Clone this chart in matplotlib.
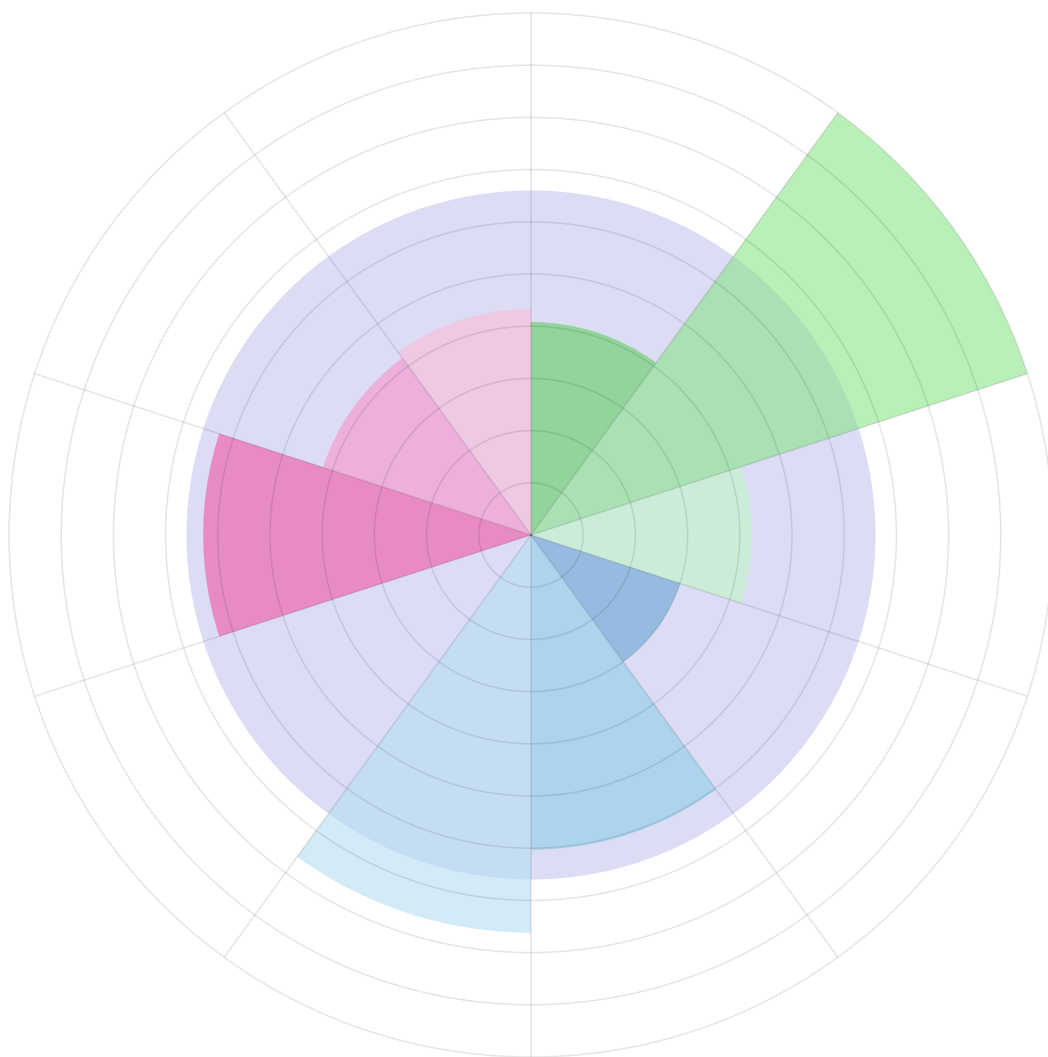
import numpy as np
import matplotlib.pyplot as plt

# ten sectors, clockwise from the top
values = [4.08, 10.0, 4.23, 3.0, 6.03, 7.62, 0.0, 6.28, 4.19, 4.33]
colors = ['#62d05f', '#89e689', '#c0fac5', '#66a7d2', '#8ccfe9',
          '#b7dff3', '#dcdcf5', '#f255a3', '#fa93c8', '#fcbbd9']
background = 6.6  # lavender disc under everything
bg_color = '#dcdcf5'
rmax = 10

n = len(values)
width = 2 * np.pi / n
theta = np.arange(n) * width + width / 2

fig = plt.figure(figsize=(10.48, 10.57), dpi=100)
ax = fig.add_axes([9 / 1048, 0.0, 1044 / 1048, 1044 / 1057], projection='polar')
ax.set_theta_zero_location('N')
ax.set_theta_direction(-1)

ax.bar(0, background, width=2 * np.pi, color=bg_color, linewidth=0, zorder=1)
ax.bar(theta, values, width=width, color=colors, alpha=0.6, linewidth=0, zorder=2)

ax.set_ylim(0, rmax)
ax.set_yticks(np.arange(1, rmax + 1))
ax.set_xticks(np.arange(n) * width)
ax.set_xticklabels([])
ax.set_yticklabels([])
ax.tick_params(length=0)
ax.set_axisbelow(False)
ax.grid(True, color='black', alpha=0.1, linewidth=1.1, zorder=3)
for line in ax.yaxis.get_gridlines():
    line.set_clip_on(False)
ax.spines['polar'].set_visible(False)

fig.savefig('out.png', dpi=100)
